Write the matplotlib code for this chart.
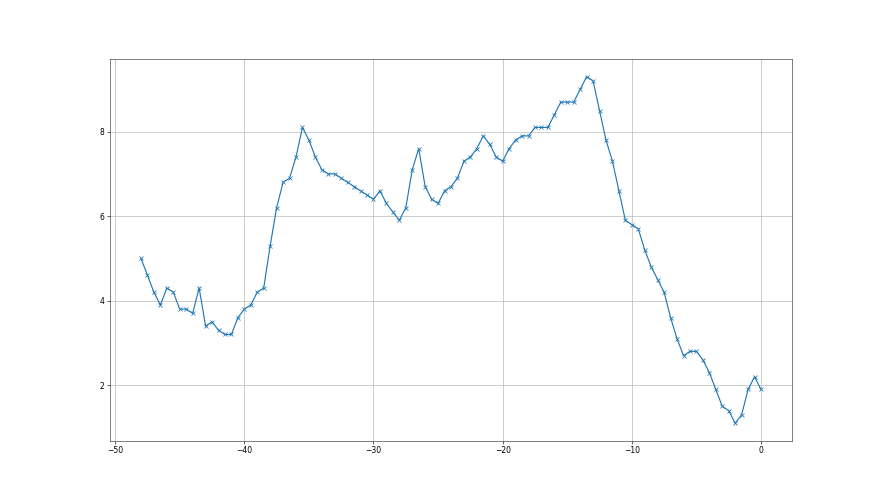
import matplotlib
matplotlib.use('Agg')
import matplotlib.pyplot as plt
import numpy as np

# x positions: -48 .. 0 in half steps
x = np.arange(-48, 0.01, 0.5)

y = [5.0, 4.6, 4.2, 3.9, 4.3, 4.2, 3.8, 3.8, 3.7, 4.3,
     3.4, 3.5, 3.3, 3.2, 3.2, 3.6, 3.8, 3.9, 4.2, 4.3,
     5.3, 6.2, 6.8, 6.9, 7.4, 8.1, 7.8, 7.4, 7.1, 7.0,
     7.0, 6.9, 6.8, 6.7, 6.6, 6.5, 6.4, 6.6, 6.3, 6.1,
     5.9, 6.2, 7.1, 7.6, 6.7, 6.4, 6.3, 6.6, 6.7, 6.9,
     7.3, 7.4, 7.6, 7.9, 7.7, 7.4, 7.3, 7.6, 7.8, 7.9,
     7.9, 8.1, 8.1, 8.1, 8.4, 8.7, 8.7, 8.7, 9.0, 9.3,
     9.2, 8.5, 7.8, 7.3, 6.6, 5.9, 5.8, 5.7, 5.2, 4.8,
     4.5, 4.2, 3.6, 3.1, 2.7, 2.8, 2.8, 2.6, 2.3, 1.9,
     1.5, 1.4, 1.1, 1.3, 1.9, 2.2, 1.9]

fig = plt.figure(figsize=(16, 9), dpi=55)
ax = fig.add_subplot(111)
ax.plot(x, y, marker='x', color='#1f77b4', linewidth=1.5, markersize=6)
ax.grid(True, color='#b0b0b0', linewidth=0.8)
for s in ax.spines.values():
    s.set_color('#333333')

fig.savefig('out.png', dpi=55)
